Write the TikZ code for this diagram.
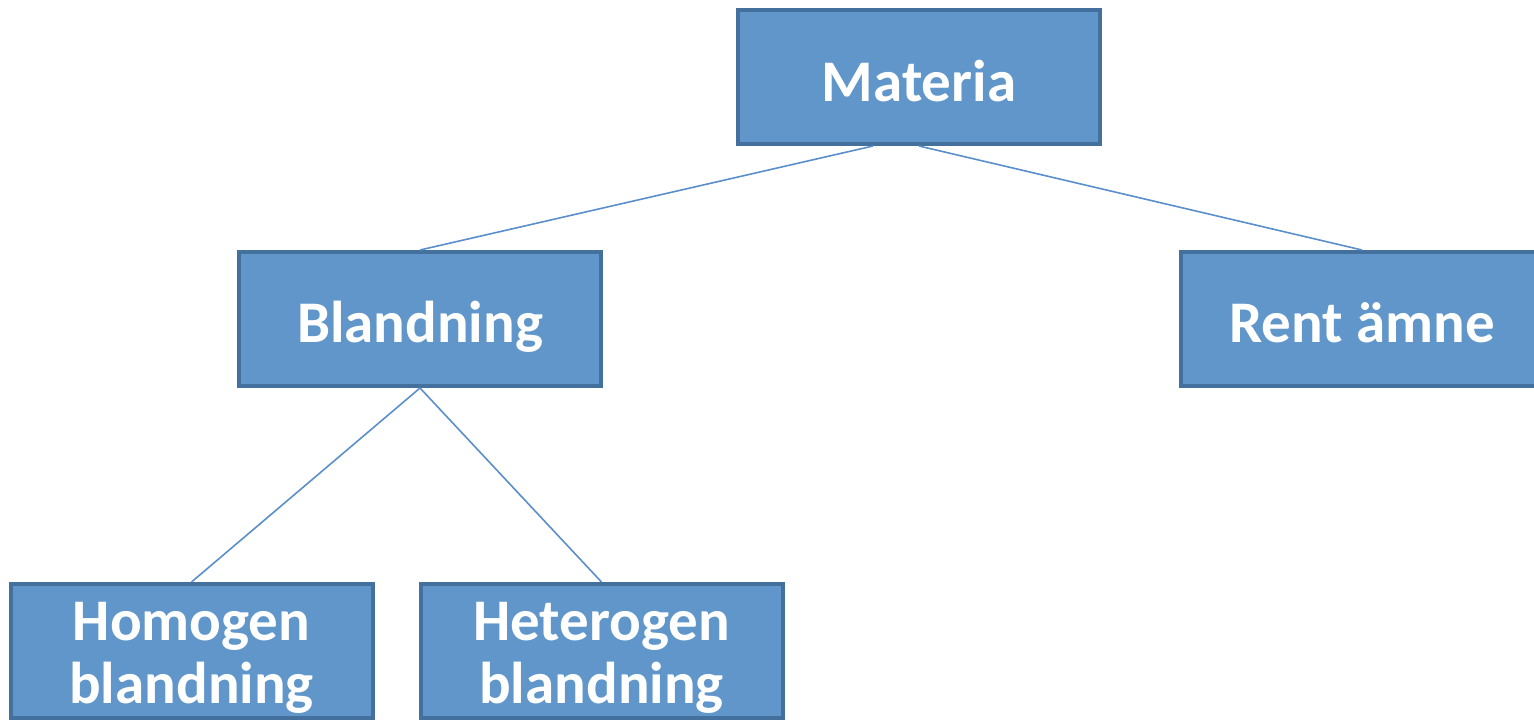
\documentclass[tikz,border=0pt]{standalone}
\usepackage{fontspec}
\setmainfont{Carlito}
\definecolor{boxfill}{HTML}{6096C9}
\definecolor{boxdraw}{HTML}{43709D}
\definecolor{linkcol}{HTML}{5A8FCB}
\begin{document}
\begin{tikzpicture}[x=1pt,y=-1pt,
  box/.style={draw=boxdraw, fill=boxfill, line width=4pt, rectangle, minimum width=362pt, minimum height=134pt, inner sep=0pt},
  lbl/.style={text=white, font=\fontsize{59}{63}\selectfont\bfseries, anchor=base, inner sep=0pt, align=center},
  link/.style={draw=linkcol, line width=1.6pt}]
\useasboundingbox (0,0) rectangle (1534,721);
\node[box] (m) at (919,77) {};
\node[box] (b) at (420,319) {};
\node[box] (r) at (1362,319) {};
\node[box] (ho) at (191.5,651) {};
\node[box] (he) at (601.5,651) {};
\node[lbl] (mt) at (919,101) {Materia};
\node[lbl] (bt) at (420,342.5) {Blandning};
\node[lbl] (rt) at (1362,342.5) {Rent ämne};
\node[lbl] (hot1) at (191.5,640) {Homogen};
\node[lbl] (hot2) at (191.5,703) {blandning};
\node[lbl] (het1) at (601.5,640) {Heterogen};
\node[lbl] (het2) at (601.5,703) {blandning};
\draw[link] ([xshift=-46pt]m.south) -- (b.north);
\draw[link] (m.south) -- (r.north);
\draw[link] (b.south) -- (ho.north);
\draw[link] (b.south) -- (he.north);
\end{tikzpicture}
\end{document}
